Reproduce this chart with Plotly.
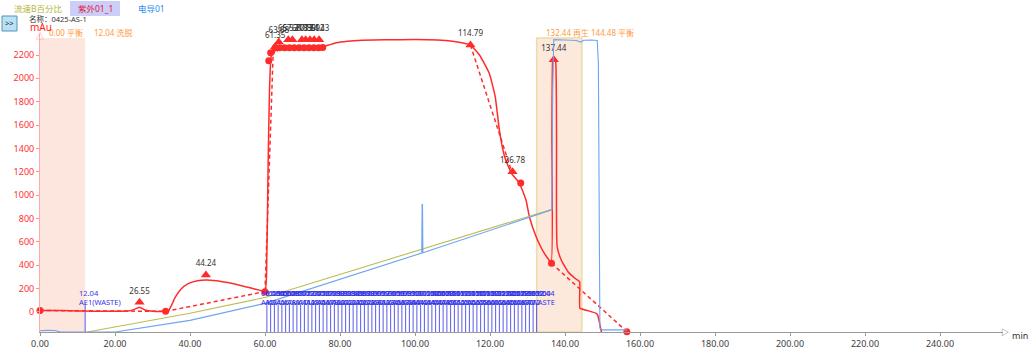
import plotly.graph_objects as go

# ---------------- DATA ----------------
# UV 紫外01_1 (mAu)
uv_time = [0, 4, 8, 12, 16, 20, 23.5, 25, 26.55, 28, 30, 33.5, 34.3, 35, 36, 37.5, 39.5, 42, 44.24, 47, 50, 53, 56,
           58.5, 60, 60.4, 60.8, 61.2, 61.6, 62.0, 62.4, 62.8, 63.3, 63.8, 65, 67, 69, 71, 73, 75, 77, 79, 82, 86,
           92, 100, 106, 110, 112.5, 114.79, 117.2, 119.8, 121.4, 122.5, 123.9, 125.7, 127.8, 129.6, 130.5, 132.3,
           134.5, 136.3, 136.5, 136.7, 137.0, 137.5, 137.75, 137.9, 139.0, 140.8, 143.0, 143.9, 144.0, 146.0, 148.3,
           148.7, 149.6, 150.2]
uv_value = [10, 10, 9, 5, 4, 4, 5, 18, 38, 15, 4, 3, 10, 50, 120, 190, 240, 265, 272, 266, 250, 228, 205,
            185, 172, 300, 1200, 1900, 2180, 2240, 2210, 2265, 2235, 2270, 2262, 2265, 2262, 2265, 2262, 2268, 2285,
            2305, 2318, 2326, 2330, 2332, 2328, 2318, 2305, 2285, 2200, 2043, 1842, 1557, 1328, 1186, 1105, 957,
            814, 643, 500, 425, 1500, 2150, 2185, 2150, 1500, 557, 443, 343, 278, 257, 29, 10, -14, -28, -157, -260]

# integration baselines (pairs of points)
base_segments = [
    [(0, 10), (33.5, 3)],
    [(33.5, 3), (60, 172)],
    [(60, 172), (62.2, 2240)],
    [(114.79, 2285), (126.0, 1180)],
    [(136.4, 415), (156.5, -171)],
]
# integration boundary dots
dot_time = [0, 33.5, 60, 61.0, 61.5, 62.7, 63.9, 65.2, 66.5, 67.8, 69.1, 70.4, 71.7, 73.0, 74.3, 75.4, 128.2, 136.4, 156.5]
dot_value = [10, 3, 172, 2150, 2220, 2262, 2262, 2262, 2262, 2262, 2262, 2262, 2262, 2262, 2262, 2265, 1102, 415, -171]

# peaks (retention time, marker height, label)
peak_time = [26.55, 44.24, 62.72, 63.68, 66.21, 67.31, 69.83, 70.85, 71.99, 73.12, 74.43, 114.79, 126.0, 137.0]
peak_value = [80, 314, 2271, 2311, 2330, 2330, 2330, 2330, 2330, 2330, 2330, 2285, 1200, 2160]
peak_label = ["26.55", "44.24", "61.35", "63.68", "65.52", "67.31", "68.83", "70.85", "71.99", "73.12", "74.43",
              "114.79", "126.78", "137.44"]

# 流速B百分比 (%)
flow_b_time = [12.6, 40, 60, 101.9, 136.5]
flow_b_value = [0, 6.3, 11.6, 27.8, 41.2]

# 电导01 (% of scale)
cond_time = [0, 2, 4, 5.5, 20, 40, 60, 101.8, 101.9, 102.0, 102.1, 136.5, 136.7, 137.0, 140, 143,
             144.2, 145, 147, 148.6, 148.9, 149.3, 150, 156.5]
cond_value = [0.4, 0.6, 0.5, 0, 0, 3.9, 9.6, 26.5, 42.8, 42.8, 26.6, 41.0, 80, 98.1, 98.0, 97.8,
              97.3, 97.9, 98.0, 97.8, 90, 1.3, 0.7, 0.7]

# fraction collection events
waste_time = 12.04
waste_label = "AE1(WASTE)"
fraction_times = [60.5, 61.5, 62.5, 63.5, 64.5, 65.5, 66.5, 67.5, 68.5, 69.5, 70.5, 71.5, 72.5, 73.5, 74.5, 75.5,
                  76.5, 77.5, 78.5, 79.5, 80.5, 81.5, 82.5, 83.5, 84.5, 85.5, 86.5, 87.5, 88.5, 89.5, 90.5, 91.5,
                  92.5, 93.5, 94.5, 95.5, 96.5, 97.5, 98.5, 99.5, 100.5, 101.5, 102.5, 103.5, 104.5, 105.5, 106.5,
                  107.5, 108.5, 109.5, 110.5, 111.5, 112.5, 113.5, 114.5, 115.5, 116.5, 117.5, 118.5, 119.5, 120.5,
                  121.5, 122.5, 123.5, 124.5, 125.5, 126.5, 127.5, 128.5, 129.5, 130.5, 131.5, 132.44]
fraction_tubes = ["A%d" % (i + 1) for i in range(len(fraction_times) - 1)] + ["WASTE"]

# method phases
phase_time = [0.00, 12.04, 132.44, 144.48]
phase_name = ["平衡", "洗脱", "再生", "平衡"]

x_ticks = [0, 20, 40, 60, 80, 100, 120, 140, 160, 180, 200, 220, 240]
y_ticks = [0, 200, 400, 600, 800, 1000, 1200, 1400, 1600, 1800, 2000, 2200]

# ---------------- LAYOUT HELPERS ----------------
W, H = 1036, 352
L, R, T, B = 40, 1003, 34, 332
X_RANGE = [0, 256.8]
Y_RANGE = [-174, 2380]
FONT = "Noto Sans, Noto Sans CJK SC, sans-serif"


def px(x):
    return (x - L) / (R - L)


def py(y):
    return (B - y) / (B - T)


RED = "#ff2b2b"
fig = go.Figure()

# green B%
fig.add_trace(go.Scatter(x=flow_b_time, y=flow_b_value, yaxis="y2", mode="lines",
                         line=dict(color="#bcbc55", width=1.1), hoverinfo="skip"))
# conductivity
fig.add_trace(go.Scatter(x=cond_time, y=cond_value, yaxis="y3", mode="lines",
                         line=dict(color="#6ea4f2", width=1.1), hoverinfo="skip"))

# fraction marks
fx, fy = [], []
for t in [waste_time] + fraction_times:
    fx += [t, t, None]
    fy += [Y_RANGE[0], 70, None]
fig.add_trace(go.Scatter(x=fx, y=fy, mode="lines", line=dict(color="rgba(60,60,235,0.85)", width=1),
                         hoverinfo="skip"))

# baselines
bx, by = [], []
for seg in base_segments:
    bx += [seg[0][0], seg[1][0], None]
    by += [seg[0][1], seg[1][1], None]
fig.add_trace(go.Scatter(x=bx, y=by, mode="lines", line=dict(color=RED, width=1.5, dash="4px,3px"),
                         hoverinfo="skip"))

# UV curve
fig.add_trace(go.Scatter(x=uv_time, y=uv_value, mode="lines", line=dict(color=RED, width=1.5, shape="spline",
                         smoothing=0.4), hoverinfo="skip"))

# dots
fig.add_trace(go.Scatter(x=dot_time, y=dot_value, mode="markers", marker=dict(color=RED, size=7),
                         cliponaxis=False, hoverinfo="skip"))

# peaks
fig.add_trace(go.Scatter(x=peak_time, y=peak_value, mode="markers+text", text=peak_label,
                         textposition="top center", textfont=dict(size=8, color="#333333", family=FONT),
                         marker=dict(color=RED, size=9, symbol="triangle-up"), cliponaxis=False,
                         hoverinfo="skip"))

annotations = []
shapes = []


def note(x, y, text, size, color, xanchor="left"):
    annotations.append(dict(x=px(x), y=py(y), xref="paper", yref="paper", text=text, showarrow=False,
                            xanchor=xanchor, yanchor="middle", font=dict(size=size, color=color, family=FONT)))


# phase shading
shapes.append(dict(type="rect", xref="x", yref="y", x0=phase_time[0], x1=phase_time[1], y0=Y_RANGE[0], y1=2345,
                   fillcolor="#fde6dd", line=dict(width=0), layer="below"))
shapes.append(dict(type="rect", xref="x", yref="y", x0=phase_time[2], x1=phase_time[3], y0=Y_RANGE[0], y1=2345,
                   fillcolor="#fde8dc", line=dict(color="#ecdca6", width=1.5), layer="below"))
for t, n in zip(phase_time, phase_name):
    annotations.append(dict(x=t, y=py(33), xref="x", yref="paper", text="%.2f %s" % (t, n), showarrow=False,
                            xanchor="left", yanchor="middle", xshift=7,
                            font=dict(size=8, color="#ff9a3c", family=FONT)))

# fraction labels
for t, tube in [(waste_time, waste_label)] + list(zip(fraction_times, fraction_tubes)):
    annotations.append(dict(x=t, y=163, xref="x", yref="y", text="%.2f" % t, showarrow=False,
                            xanchor="left", yanchor="middle", xshift=-8,
                            font=dict(size=7.5, color="#3333e6", family=FONT)))
    annotations.append(dict(x=t, y=86, xref="x", yref="y", text=tube, showarrow=False,
                            xanchor="left", yanchor="middle", xshift=-8,
                            font=dict(size=7.5, color="#3333e6", family=FONT)))

# top tabs
shapes.append(dict(type="rect", xref="paper", yref="paper", x0=px(70), x1=px(120), y0=py(16), y1=py(1),
                   fillcolor="#cccdf8", line=dict(width=0)))
note(12, 8.5, "流速B百分比", 8.5, "#b5b535")
note(95, 8.5, "紫外01_1", 8.5, "#e0203a", "center")
note(136, 8.5, "电导01", 8.5, "#2f8cf2")

# >> button
shapes.append(dict(type="rect", xref="paper", yref="paper", x0=px(2), x1=px(17), y0=py(31), y1=py(16),
                   fillcolor="#b9e2f7", line=dict(color="#5a8fb8", width=1)))
note(9.5, 23.5, "&gt;&gt;", 7.5, "#222222", "center")
note(27, 19, "名称：0425-AS-1", 7.5, "#333333")
note(28, 27.5, "mAu", 10, "#ff2020")
note(40, 35, "△", 8, "#ff8080", "center")
note(1005, 331, "▷", 8, "#555555", "center")
note(1010, 335, "min", 9, "#333333")

fig.update_layout(
    width=W, height=H,
    margin=dict(l=L, r=W - R, t=T, b=H - B, autoexpand=False),
    paper_bgcolor="white", plot_bgcolor="white",
    showlegend=False,
    font=dict(family=FONT),
    xaxis=dict(range=X_RANGE, tickvals=x_ticks, ticktext=["%.2f" % v for v in x_ticks], showgrid=False,
               zeroline=False, showline=True, linecolor="#9a9a9a", linewidth=1, ticks="outside", ticklen=3,
               tickcolor="#9a9a9a", tickfont=dict(size=9, color="#404040", family=FONT), automargin=False),
    yaxis=dict(range=Y_RANGE, tickvals=y_ticks, showgrid=False, zeroline=False, showline=True,
               linecolor="#ffaaaa", linewidth=1, ticks="outside", ticklen=3, tickcolor="#ff9090",
               tickfont=dict(size=9, color="#ff3030", family=FONT), automargin=False),
    yaxis2=dict(range=[0, 100], overlaying="y", visible=False),
    yaxis3=dict(range=[0, 100], overlaying="y", visible=False),
    shapes=shapes,
    annotations=annotations,
)

fig.write_html("out.html")
